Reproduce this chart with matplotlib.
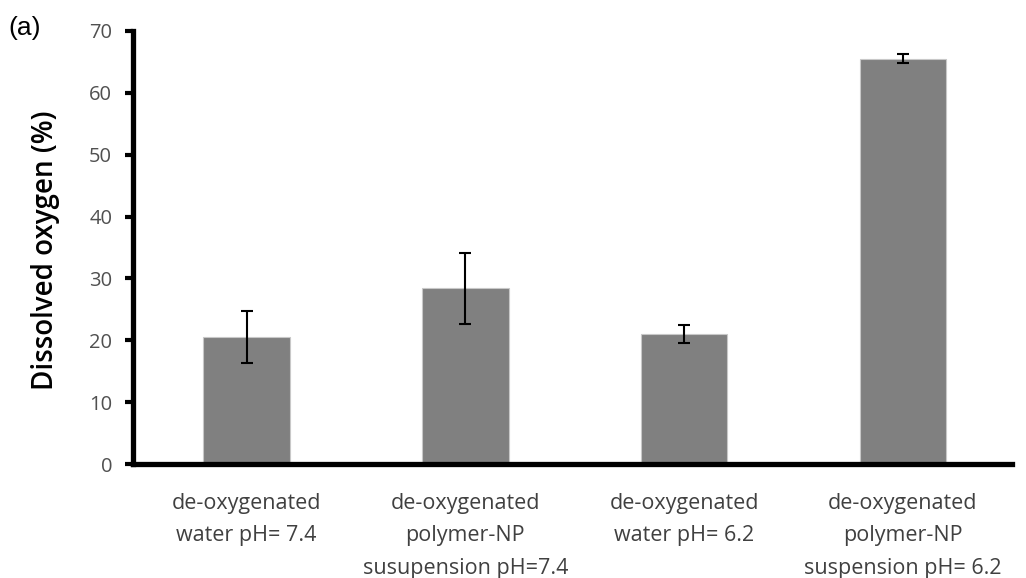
import matplotlib
matplotlib.use("Agg")
import matplotlib.pyplot as plt
import numpy as np

categories = [
    "de-oxygenated\nwater pH= 7.4",
    "de-oxygenated\npolymer-NP\nsusupension pH=7.4",
    "de-oxygenated\nwater pH= 6.2",
    "de-oxygenated\npolymer-NP\nsuspension pH= 6.2",
]
values = [20.6, 28.4, 21.0, 65.5]
errors = [4.2, 5.7, 1.5, 0.7]
yticks = [0, 10, 20, 30, 40, 50, 60, 70]

fig = plt.figure(figsize=(10.26, 5.78), dpi=100)
ax = fig.add_axes([0.1296, 0.1972, 0.8568, 0.7492])

x = np.arange(len(categories))
ax.bar(x, values, width=0.395, color="#808080", edgecolor="#c8c8c8", linewidth=0.8,
       yerr=errors, error_kw=dict(ecolor="black", elinewidth=1.5, capsize=4.2, capthick=1.5),
       zorder=2)

ax.set_xlim(-0.52, 3.5)
ax.set_ylim(0, 70)
ax.set_yticks(yticks)
ax.set_yticklabels([str(v) for v in yticks], fontfamily="Open Sans", fontsize=14.5, color="#505050")
ax.set_xticks(x)
ax.set_xticklabels(categories, fontfamily="Open Sans", fontsize=15.5, color="#404040", linespacing=1.7)
ax.tick_params(axis="x", length=0, pad=21)
ax.tick_params(axis="y", direction="out", length=6, width=3, pad=9)

for s in ["top", "right"]:
    ax.spines[s].set_visible(False)
for s in ["left", "bottom"]:
    ax.spines[s].set_linewidth(3.8)
    ax.spines[s].set_color("black")

ax.set_ylabel("Dissolved oxygen (%)", fontfamily="Open Sans", fontsize=20, fontweight="semibold",
              color="black")
ax.yaxis.set_label_coords(-0.083, 0.494)

fig.text(0.008, 0.951, "(a)", fontfamily="Liberation Sans", fontsize=19, color="black",
         ha="left", va="center")

fig.savefig("out.png", dpi=100)
